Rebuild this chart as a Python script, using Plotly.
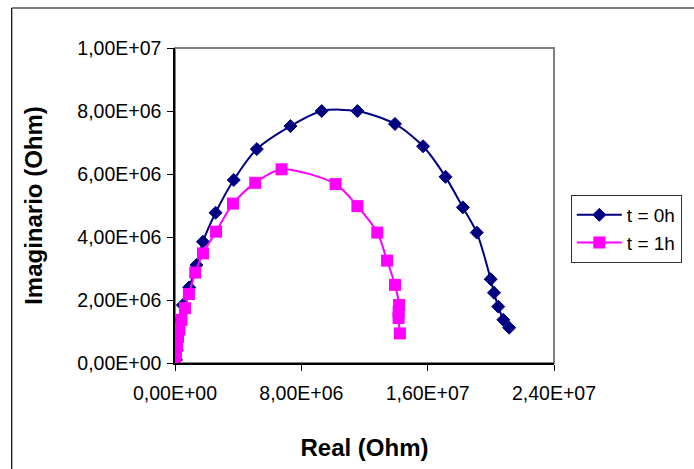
import plotly.graph_objects as go

# t = 0h (Real, Imaginario) in Ohm
real_0h = [0.06e6, 0.12e6, 0.19e6, 0.31e6, 0.50e6, 0.90e6, 1.36e6, 1.77e6, 2.57e6,
           3.72e6, 5.18e6, 7.31e6, 9.29e6, 1.155e7, 1.393e7, 1.571e7, 1.713e7,
           1.823e7, 1.911e7, 1.999e7, 2.020e7, 2.047e7, 2.079e7, 2.116e7]
imag_0h = [0.10e6, 0.41e6, 0.89e6, 1.37e6, 1.84e6, 2.40e6, 3.11e6, 3.85e6, 4.77e6,
           5.81e6, 6.79e6, 7.52e6, 8.00e6, 8.00e6, 7.59e6, 6.88e6, 5.91e6,
           4.94e6, 4.14e6, 2.66e6, 2.23e6, 1.79e6, 1.37e6, 1.12e6]

# t = 1h
real_1h = [0.0, 0.06e6, 0.125e6, 0.19e6, 0.28e6, 0.41e6, 0.63e6, 0.88e6, 1.28e6,
           1.77e6, 2.60e6, 3.67e6, 5.08e6, 6.75e6, 1.017e7, 1.155e7, 1.281e7,
           1.343e7, 1.393e7, 1.419e7, 1.416e7, 1.416e7, 1.424e7]
imag_1h = [0.10e6, 0.35e6, 0.57e6, 0.83e6, 1.08e6, 1.37e6, 1.74e6, 2.19e6, 2.87e6,
           3.48e6, 4.17e6, 5.06e6, 5.72e6, 6.15e6, 5.68e6, 4.98e6, 4.14e6,
           3.25e6, 2.48e6, 1.84e6, 1.62e6, 1.43e6, 0.94e6]

x_ticks = [0, 8e6, 1.6e7, 2.4e7]
x_tick_labels = ["0,00E+00", "8,00E+06", "1,60E+07", "2,40E+07"]
y_ticks = [0, 2e6, 4e6, 6e6, 8e6, 1e7]
y_tick_labels = ["0,00E+00", "2,00E+06", "4,00E+06", "6,00E+06", "8,00E+06", "1,00E+07"]

FONT = "Liberation Sans, Arial, sans-serif"

fig = go.Figure()
fig.add_trace(go.Scatter(
    x=real_0h, y=imag_0h, name="t = 0h", mode="lines+markers",
    line=dict(color="#000080", width=2, shape="spline", smoothing=0.8),
    marker=dict(symbol="diamond", size=10, color="#000080",
                line=dict(color="#000080", width=1)),
))
fig.add_trace(go.Scatter(
    x=real_1h, y=imag_1h, name="t = 1h", mode="lines+markers",
    line=dict(color="#FF00FF", width=2, shape="spline", smoothing=0.8),
    marker=dict(symbol="square", size=12, color="#FF00FF"),
))

L, R, T, B = 175, 136, 48, 106
W, H = 694, 469
pw, ph = W - L - R, H - T - B

fig.update_layout(
    width=W, height=H,
    margin=dict(l=L, r=R, t=T, b=B, pad=0),
    paper_bgcolor="white", plot_bgcolor="white",
    font=dict(family=FONT, color="black", size=18),
    showlegend=True,
    legend=dict(
        x=(575 - L) / pw, y=(H - B - 195) / ph, xanchor="left", yanchor="top",
        bordercolor="#333333", borderwidth=1, bgcolor="white",
        font=dict(family=FONT, size=19, color="black"),
        itemwidth=45, tracegroupgap=0,
    ),
    xaxis=dict(
        range=[0, 2.4e7], tickvals=x_ticks, ticktext=x_tick_labels,
        showgrid=False, zeroline=False, showline=True, linecolor="black", linewidth=1.5,
        ticks="outside", ticklen=6, tickcolor="black", tickwidth=1.2,
        ticklabelstandoff=6, tickfont=dict(size=19.5),
        title=dict(text="<b>Real (Ohm)</b>", font=dict(size=24), standoff=36),
        automargin=False,
    ),
    yaxis=dict(
        range=[0, 1e7], tickvals=y_ticks, ticktext=y_tick_labels,
        showgrid=False, zeroline=False, showline=True, linecolor="black", linewidth=1.5,
        ticks="outside", ticklen=6, tickcolor="black", tickwidth=1.2,
        ticklabelstandoff=2, tickfont=dict(size=19.5),
        title=dict(text="<b>Imaginario (Ohm)</b>", font=dict(size=24), standoff=28),
        automargin=False,
    ),
    shapes=[
        # gray plot-area border
        dict(type="rect", xref="paper", yref="paper", x0=0, y0=0, x1=1, y1=1,
             line=dict(color="#808080", width=2), layer="below"),
        # chart-area border (left and top edges visible)
        dict(type="line", xref="paper", yref="paper",
             x0=(10 - L) / pw, x1=(10 - L) / pw, y0=(H - B - 8) / ph, y1=-1,
             line=dict(color="black", width=1.2)),
        dict(type="line", xref="paper", yref="paper",
             x0=(10 - L) / pw, x1=3, y0=(H - B - 8) / ph, y1=(H - B - 8) / ph,
             line=dict(color="black", width=1.2)),
    ],
)

fig.write_html("out.html")
